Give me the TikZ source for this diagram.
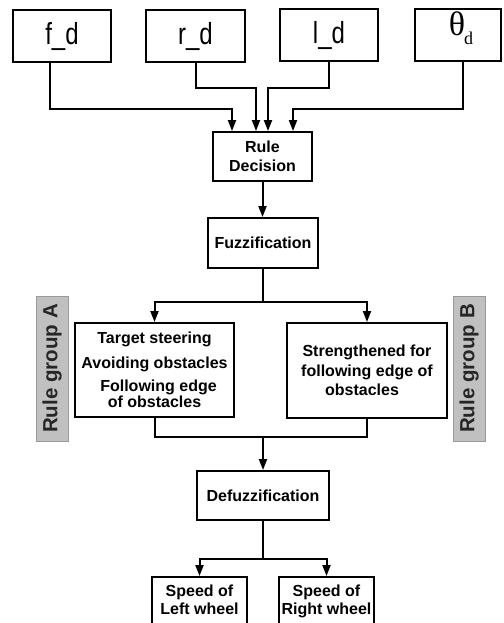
\documentclass[tikz,border=0pt]{standalone}
\usepackage{fontspec}
\setmainfont{Liberation Sans}
\newfontfamily\serifgr{Liberation Serif}
\usetikzlibrary{arrows.meta,calc}
\definecolor{groupgray}{HTML}{C0C0C0}
\definecolor{groupedge}{HTML}{9A9A9A}
\begin{document}
\begin{tikzpicture}[x=1pt,y=-1pt,
  box/.style={draw, line width=2pt, inner sep=0pt, align=center,
    font=\fontsize{16}{19}\selectfont\bfseries},
  topbox/.style={draw, line width=2pt, minimum width=98pt, minimum height=52pt,
    inner sep=0pt, font=\fontsize{24}{28}\selectfont},
  arr/.style={line width=2pt, -{Triangle[length=11pt,width=8pt]}},
  conn/.style={line width=2pt},
  grp/.style={fill=groupgray, draw=groupedge, line width=1pt, rotate=90,
    minimum width=145pt, minimum height=32pt, inner sep=0pt,
    font=\fontsize{20.5}{22}\selectfont\bfseries, text=black!85}]
\useasboundingbox (0,0) rectangle (503,623);
\clip (0,0) rectangle (503,623);
% top inputs
\node[topbox, minimum width=98pt] (fd) at (62,36) {\scalebox{1}[1.27]{f\_d}};
\node[topbox, minimum width=99pt] (rd) at (195.5,36) {\scalebox{1}[1.27]{r\_d}};
\node[topbox] (ld) at (329,35) {\scalebox{1}[1.27]{l\_d}};
\node[topbox, minimum width=86pt] (th) at (458,35) {};
\node[inner sep=0pt, anchor=north, font=\serifgr] (tht) at (461,12)
  {\fontsize{34}{34}\selectfont θ\kern-1pt\raisebox{-9pt}{\fontsize{18}{18}\selectfont d}};
% main chain
\node[box, minimum width=99pt, minimum height=49pt] (rule) at (262.5,156.5) {Rule\\Decision};
\node[box, minimum width=110pt, minimum height=50pt] (fuzz) at (263,243) {Fuzzification};
\node[box, minimum width=159pt, minimum height=94pt, font=\fontsize{16}{16}\selectfont\bfseries] (A) at (154.5,370)
  {Target steering\\[9pt]Avoiding obstacles\\[7pt]\hspace*{8pt}Following edge\\of obstacles};
\node[box, minimum width=160pt, minimum height=95pt, font=\fontsize{16}{19.5}\selectfont\bfseries] (B) at (367,370.5)
  {Strengthened for\\following edge of\\obstacles\hspace*{10pt}};
\node[grp] (gA) at (52,368.5) {Rule group A};
\node[grp] (gB) at (469,368.5) {Rule group B};
\node[box, minimum width=132pt, minimum height=49pt] (defuzz) at (263,495.5) {Defuzzification};
\node[box, minimum width=95pt, minimum height=70pt, anchor=north] (sl) at (199.5,576) {};
\node[box, minimum width=95pt, minimum height=70pt, anchor=north] (sr) at (326.5,576) {};
\node[align=center, inner sep=0pt, anchor=north, font=\fontsize{16}{18}\selectfont\bfseries] (slt) at (199.5,585) {Speed of\\Left wheel};
\node[align=center, inner sep=0pt, anchor=north, font=\fontsize{16}{18}\selectfont\bfseries] (srt) at (326.5,585) {Speed of\\Right wheel};
% connectors
\draw[arr] ([xshift=-12pt]fd.south) -- ++(0,46) -| ([xshift=-30.5pt]rule.north);
\draw[arr] (rd.south) -- ++(0,25) -| ([xshift=-6.5pt]rule.north);
\draw[arr] (ld.south) -- ++(0,26) -| ([xshift=5.5pt]rule.north);
\draw[arr] ([xshift=5pt]th.south) -- ++(0,47) -| ([xshift=30.5pt]rule.north);
\draw[arr] (rule.south) -- (rule.south |- fuzz.north);
\draw[arr] (fuzz.south) -- ++(0,33) -| (A.north);
\draw[arr] (fuzz.south) -- ++(0,33) -| (B.north);
\draw[conn] (A.south) -- ++(0,19) -| (B.south);
\coordinate (m) at ($(A.south)+(0,19)$);
\draw[arr] (m -| defuzz.north) -- (defuzz.north);
\draw[arr] (defuzz.south) -- ++(0,38) -| (sl.north);
\draw[arr] (defuzz.south) -- ++(0,38) -| (sr.north);
\end{tikzpicture}
\end{document}
